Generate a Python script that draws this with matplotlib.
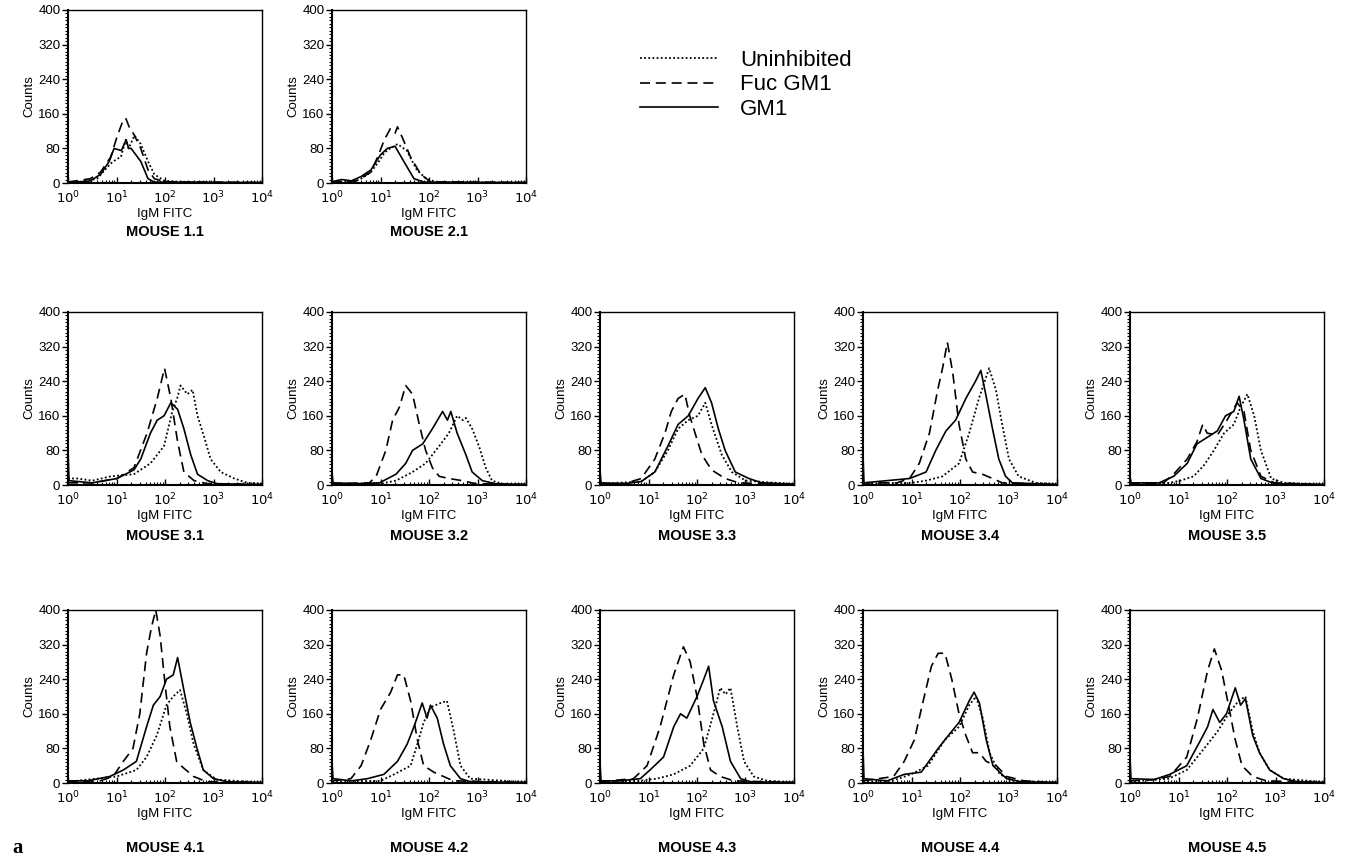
import matplotlib
matplotlib.use('Agg')
import matplotlib.pyplot as plt
from matplotlib.ticker import FixedLocator, MultipleLocator, LogLocator, NullFormatter, FixedFormatter

plt.rcParams['font.family'] = ['Liberation Sans', 'DejaVu Sans']

# ---------------- data: (log10 IgM FITC intensity, counts) ----------------
panel_titles = ["MOUSE 1.1", "MOUSE 2.1",
                "MOUSE 3.1", "MOUSE 3.2", "MOUSE 3.3", "MOUSE 3.4", "MOUSE 3.5",
                "MOUSE 4.1", "MOUSE 4.2", "MOUSE 4.3", "MOUSE 4.4", "MOUSE 4.5"]
series_labels = ["Uninhibited", "Fuc GM1", "GM1"]
x_tick_values = [1, 10, 100, 1000, 10000]
x_tick_labels = ["$10^{0}$", "$10^{1}$", "$10^{2}$", "$10^{3}$", "$10^{4}$"]
y_tick_values = [0, 80, 160, 240, 320, 400]

m11_uninhibited = [(0, 2), (0.3, 3), (0.6, 10), (0.88, 45), (1.0, 55), (1.09, 60), (1.19, 100), (1.25, 80), (1.37, 110), (1.5, 90), (1.65, 50), (1.78, 20), (1.99, 5), (2.3, 3), (3, 1), (4, 1)]
m11_fuc_gm1 = [(0, 2), (0.46, 10), (0.67, 25), (0.88, 60), (1.02, 110), (1.12, 140), (1.19, 150), (1.26, 130), (1.37, 110), (1.5, 80), (1.65, 30), (1.78, 10), (2.0, 3), (4, 1)]
m11_gm1 = [(0, 3), (0.3, 3), (0.46, 5), (0.67, 20), (0.85, 50), (0.95, 80), (1.1, 75), (1.2, 100), (1.25, 80), (1.3, 80), (1.5, 50), (1.65, 10), (1.78, 2), (4, 1)]

m21_uninhibited = [(0, 2), (0.5, 5), (0.6, 10), (0.8, 25), (1.0, 55), (1.08, 70), (1.2, 80), (1.35, 90), (1.54, 75), (1.75, 30), (1.96, 8), (2.2, 2), (4, 1)]
m21_fuc_gm1 = [(0, 2), (0.5, 5), (0.8, 25), (0.94, 60), (1.08, 100), (1.2, 125), (1.3, 115), (1.35, 130), (1.45, 105), (1.62, 60), (1.83, 20), (2.03, 3), (4, 1)]
m21_gm1 = [(0, 3), (0.2, 8), (0.4, 5), (0.6, 15), (0.8, 30), (1.0, 65), (1.14, 80), (1.3, 85), (1.48, 50), (1.69, 10), (1.9, 2), (4, 1)]

m31_uninhibited = [(0, 15), (0.2, 15), (0.5, 10), (0.88, 20), (1.36, 25), (1.7, 50), (1.98, 90), (2.15, 170), (2.25, 200), (2.32, 230), (2.46, 210), (2.57, 220), (2.67, 160), (2.81, 110), (2.94, 60), (3.15, 30), (3.43, 15), (3.7, 5), (4, 3)]
m31_fuc_gm1 = [(0, 5), (0.5, 5), (1.01, 15), (1.36, 40), (1.63, 120), (1.84, 200), (1.99, 270), (2.12, 200), (2.26, 100), (2.39, 30), (2.6, 10), (2.88, 3), (4, 1)]
m31_gm1 = [(0, 90), (0.02, 10), (0.5, 5), (1.01, 15), (1.36, 35), (1.5, 60), (1.7, 120), (1.84, 150), (1.98, 160), (2.12, 190), (2.26, 175), (2.39, 130), (2.53, 70), (2.67, 25), (2.88, 10), (3.08, 3), (4, 1)]

m32_uninhibited = [(0, 3), (1.0, 3), (1.32, 10), (1.66, 30), (1.93, 50), (2.21, 90), (2.41, 120), (2.58, 160), (2.7, 150), (2.76, 155), (2.89, 130), (3.03, 90), (3.17, 40), (3.3, 10), (3.5, 3), (4, 1)]
m32_fuc_gm1 = [(0, 3), (0.77, 5), (0.91, 20), (1.11, 80), (1.25, 150), (1.39, 180), (1.52, 230), (1.66, 210), (1.8, 140), (1.93, 80), (2.07, 40), (2.21, 20), (2.41, 15), (2.69, 10), (2.96, 3), (4, 1)]
m32_gm1 = [(0, 30), (0.02, 5), (0.5, 3), (0.98, 5), (1.32, 25), (1.52, 50), (1.66, 80), (1.87, 95), (2.07, 130), (2.28, 170), (2.38, 150), (2.45, 170), (2.58, 120), (2.76, 70), (2.89, 30), (3.1, 10), (3.37, 3), (4, 1)]

m33_uninhibited = [(0, 3), (0.85, 8), (1.13, 30), (1.4, 80), (1.61, 130), (1.82, 150), (2.02, 160), (2.17, 190), (2.3, 140), (2.51, 70), (2.72, 30), (3.0, 10), (4, 2)]
m33_fuc_gm1 = [(0, 3), (0.5, 3), (0.85, 15), (1.13, 60), (1.34, 120), (1.47, 170), (1.61, 200), (1.75, 210), (1.85, 160), (1.96, 120), (2.1, 70), (2.3, 35), (2.58, 15), (2.86, 5), (4, 1)]
m33_gm1 = [(0, 35), (0.02, 5), (0.5, 3), (0.85, 8), (1.13, 30), (1.4, 90), (1.61, 140), (1.82, 160), (2.02, 200), (2.17, 225), (2.3, 190), (2.44, 130), (2.58, 80), (2.79, 30), (3.07, 15), (3.34, 5), (4, 2)]

m34_uninhibited = [(0, 3), (1.0, 5), (1.3, 10), (1.64, 20), (1.98, 50), (2.19, 120), (2.39, 200), (2.6, 270), (2.74, 220), (2.87, 140), (3.01, 60), (3.21, 20), (3.56, 5), (4, 2)]
m34_fuc_gm1 = [(0, 5), (0.7, 5), (0.96, 15), (1.16, 50), (1.37, 120), (1.54, 220), (1.64, 270), (1.74, 330), (1.85, 260), (1.98, 140), (2.12, 60), (2.26, 30), (2.46, 25), (2.67, 15), (2.87, 5), (4, 1)]
m34_gm1 = [(0, 70), (0.02, 5), (0.3, 8), (0.96, 15), (1.3, 30), (1.5, 80), (1.71, 125), (1.91, 150), (2.12, 200), (2.32, 240), (2.43, 265), (2.53, 210), (2.67, 130), (2.8, 60), (2.94, 20), (3.08, 5), (4, 1)]

m35_uninhibited = [(0, 3), (0.7, 3), (1.04, 10), (1.31, 20), (1.52, 45), (1.73, 80), (1.94, 120), (2.14, 140), (2.28, 180), (2.42, 210), (2.56, 160), (2.7, 80), (2.91, 15), (3.18, 5), (4, 1)]
m35_fuc_gm1 = [(0, 3), (0.69, 5), (0.9, 25), (1.18, 60), (1.38, 100), (1.5, 140), (1.59, 120), (1.8, 115), (2.0, 150), (2.21, 190), (2.35, 170), (2.49, 80), (2.7, 20), (2.98, 5), (4, 1)]
m35_gm1 = [(0, 20), (0.02, 5), (0.6, 5), (0.9, 20), (1.18, 50), (1.38, 95), (1.59, 110), (1.8, 125), (1.97, 160), (2.14, 170), (2.25, 205), (2.35, 150), (2.49, 60), (2.7, 15), (2.98, 3), (4, 1)]

m41_uninhibited = [(0, 3), (1.0, 15), (1.41, 30), (1.62, 60), (1.83, 110), (2.03, 180), (2.17, 200), (2.31, 215), (2.45, 160), (2.59, 90), (2.79, 30), (3.06, 8), (4, 1)]
m41_fuc_gm1 = [(0, 3), (0.66, 5), (0.93, 15), (1.14, 50), (1.34, 80), (1.48, 160), (1.62, 300), (1.72, 360), (1.81, 400), (1.9, 340), (2.0, 230), (2.1, 130), (2.24, 50), (2.38, 35), (2.59, 15), (2.86, 3), (4, 1)]
m41_gm1 = [(0, 5), (0.4, 5), (0.86, 15), (1.14, 30), (1.41, 50), (1.62, 130), (1.76, 180), (1.9, 200), (2.03, 240), (2.17, 250), (2.26, 290), (2.38, 220), (2.52, 140), (2.66, 80), (2.79, 30), (3.0, 10), (3.28, 3), (4, 1)]

m42_uninhibited = [(0, 3), (1.0, 5), (1.28, 20), (1.62, 40), (1.76, 90), (1.89, 140), (2.03, 175), (2.24, 185), (2.37, 190), (2.51, 120), (2.65, 40), (2.85, 10), (4, 2)]
m42_fuc_gm1 = [(0, 5), (0.39, 10), (0.6, 40), (0.8, 100), (1.0, 170), (1.21, 210), (1.35, 250), (1.48, 250), (1.62, 190), (1.76, 100), (1.89, 40), (2.1, 25), (2.3, 15), (2.5, 5), (4, 1)]
m42_gm1 = [(0, 50), (0.02, 10), (0.4, 5), (0.73, 10), (1.07, 20), (1.35, 50), (1.55, 90), (1.69, 130), (1.86, 185), (1.96, 150), (2.03, 180), (2.17, 150), (2.3, 90), (2.44, 40), (2.65, 10), (2.85, 3), (4, 1)]

m43_uninhibited = [(0, 3), (0.8, 5), (1.17, 10), (1.52, 20), (1.86, 40), (2.14, 80), (2.34, 160), (2.48, 220), (2.59, 205), (2.69, 220), (2.83, 130), (2.97, 50), (3.17, 15), (3.45, 5), (4, 1)]
m43_fuc_gm1 = [(0, 3), (0.69, 10), (0.97, 40), (1.24, 130), (1.52, 250), (1.72, 315), (1.86, 280), (2.0, 200), (2.14, 90), (2.28, 30), (2.48, 15), (2.76, 5), (4, 1)]
m43_gm1 = [(0, 50), (0.02, 5), (0.4, 5), (0.83, 10), (1.03, 30), (1.31, 60), (1.52, 130), (1.66, 160), (1.79, 150), (2.0, 200), (2.14, 240), (2.24, 270), (2.34, 190), (2.52, 130), (2.69, 50), (2.9, 10), (3.1, 3), (4, 1)]

m44_uninhibited = [(0, 3), (0.6, 5), (0.99, 20), (1.34, 40), (1.69, 100), (1.98, 130), (2.19, 180), (2.33, 200), (2.47, 150), (2.61, 70), (2.82, 20), (3.1, 5), (4, 1)]
m44_fuc_gm1 = [(0, 5), (0.63, 15), (0.85, 50), (1.06, 100), (1.2, 170), (1.41, 270), (1.55, 300), (1.69, 300), (1.83, 240), (1.98, 160), (2.12, 110), (2.26, 70), (2.4, 70), (2.54, 50), (2.75, 40), (2.96, 15), (3.32, 5), (4, 1)]
m44_gm1 = [(0, 80), (0.02, 10), (0.5, 5), (0.85, 20), (1.2, 25), (1.55, 80), (1.76, 110), (1.98, 140), (2.19, 190), (2.29, 210), (2.4, 185), (2.54, 100), (2.68, 40), (2.96, 10), (3.25, 3), (4, 1)]

m45_uninhibited = [(0, 3), (0.8, 10), (1.17, 30), (1.53, 80), (1.81, 120), (2.03, 160), (2.24, 190), (2.38, 200), (2.53, 120), (2.67, 70), (2.88, 30), (3.17, 10), (4, 2)]
m45_fuc_gm1 = [(0, 5), (0.5, 8), (0.82, 15), (1.17, 60), (1.39, 150), (1.6, 260), (1.74, 310), (1.89, 260), (2.03, 180), (2.17, 100), (2.31, 40), (2.53, 15), (2.81, 5), (4, 1)]
m45_gm1 = [(0, 60), (0.02, 10), (0.5, 8), (0.82, 20), (1.17, 40), (1.46, 100), (1.6, 130), (1.71, 170), (1.85, 140), (1.99, 160), (2.17, 220), (2.28, 180), (2.38, 195), (2.53, 110), (2.67, 70), (2.88, 30), (3.17, 10), (3.45, 3), (4, 1)]

panel_data = [
    (m11_uninhibited, m11_fuc_gm1, m11_gm1),
    (m21_uninhibited, m21_fuc_gm1, m21_gm1),
    (m31_uninhibited, m31_fuc_gm1, m31_gm1),
    (m32_uninhibited, m32_fuc_gm1, m32_gm1),
    (m33_uninhibited, m33_fuc_gm1, m33_gm1),
    (m34_uninhibited, m34_fuc_gm1, m34_gm1),
    (m35_uninhibited, m35_fuc_gm1, m35_gm1),
    (m41_uninhibited, m41_fuc_gm1, m41_gm1),
    (m42_uninhibited, m42_fuc_gm1, m42_gm1),
    (m43_uninhibited, m43_fuc_gm1, m43_gm1),
    (m44_uninhibited, m44_fuc_gm1, m44_gm1),
    (m45_uninhibited, m45_fuc_gm1, m45_gm1),
]

# ---------------- layout (pixels) ----------------
W, H = 1350, 861
col_left = [68, 332, 600, 863, 1130]
row_top = [10, 312, 610]
title_y = [232, 536, 848]
ax_w, ax_h = 194, 173
panel_pos = [(0, 0), (0, 1),
             (1, 0), (1, 1), (1, 2), (1, 3), (1, 4),
             (2, 0), (2, 1), (2, 2), (2, 3), (2, 4)]

styles = [dict(linestyle=(0, (1, 1.3)), linewidth=1.3),
          dict(linestyle=(0, (6, 3.5)), linewidth=1.2),
          dict(linestyle='-', linewidth=1.2)]

fig = plt.figure(figsize=(W / 100, H / 100), dpi=100)

handles = []
for i, (title, (r, c)) in enumerate(zip(panel_titles, panel_pos)):
    left = col_left[c] / W
    bottom = 1 - (row_top[r] + ax_h) / H
    ax = fig.add_axes([left, bottom, ax_w / W, ax_h / H])
    for j, curve in enumerate(panel_data[i]):
        xs = [10 ** p[0] for p in curve]
        ys = [p[1] for p in curve]
        ln, = ax.plot(xs, ys, color='black', **styles[j], label=series_labels[j])
        if i == 0:
            handles.append(ln)
    ax.set_xscale('log')
    ax.set_xlim(1, 1e4)
    ax.set_ylim(0, 400)
    ax.xaxis.set_major_locator(FixedLocator(x_tick_values))
    ax.xaxis.set_major_formatter(FixedFormatter(x_tick_labels))
    ax.xaxis.set_minor_locator(LogLocator(base=10, subs=range(2, 10), numticks=20))
    ax.xaxis.set_minor_formatter(NullFormatter())
    ax.yaxis.set_major_locator(FixedLocator(y_tick_values))
    ax.yaxis.set_minor_locator(MultipleLocator(8))
    ax.tick_params(axis='x', which='major', direction='in', length=4, width=1.0,
                   labelsize=9.5, pad=5, top=False)
    ax.tick_params(axis='x', which='minor', direction='in', length=2.5, width=0.8, top=False)
    ax.tick_params(axis='y', which='major', direction='out', length=4, width=1.0,
                   labelsize=9.5, pad=1.5, right=False)
    ax.tick_params(axis='y', which='minor', direction='out', length=2.5, width=0.8, right=False)
    for s in ['left', 'bottom']:
        ax.spines[s].set_linewidth(1.5)
    for s in ['top', 'right']:
        ax.spines[s].set_linewidth(1.0)
    ax.set_xlabel('IgM FITC', fontsize=9.5, labelpad=1)
    ax.set_ylabel('Counts', fontsize=9.5, labelpad=2)
    fig.text((col_left[c] + ax_w / 2) / W, 1 - title_y[r] / H, title,
             ha='center', va='center', fontsize=10.5, fontweight='bold')

fig.legend(handles=handles, labels=series_labels, loc='upper left',
           bbox_to_anchor=(640 / W, 1 - 50 / H), frameon=False, fontsize=16,
           handlelength=3.5, handletextpad=1.0, labelspacing=0.15,
           borderpad=0, borderaxespad=0)

fig.text(12 / W, 1 - 848 / H, 'a', family=['Liberation Serif', 'DejaVu Serif'],
         fontweight='bold', fontsize=15, ha='left', va='center')

fig.savefig('out.png', dpi=100)
